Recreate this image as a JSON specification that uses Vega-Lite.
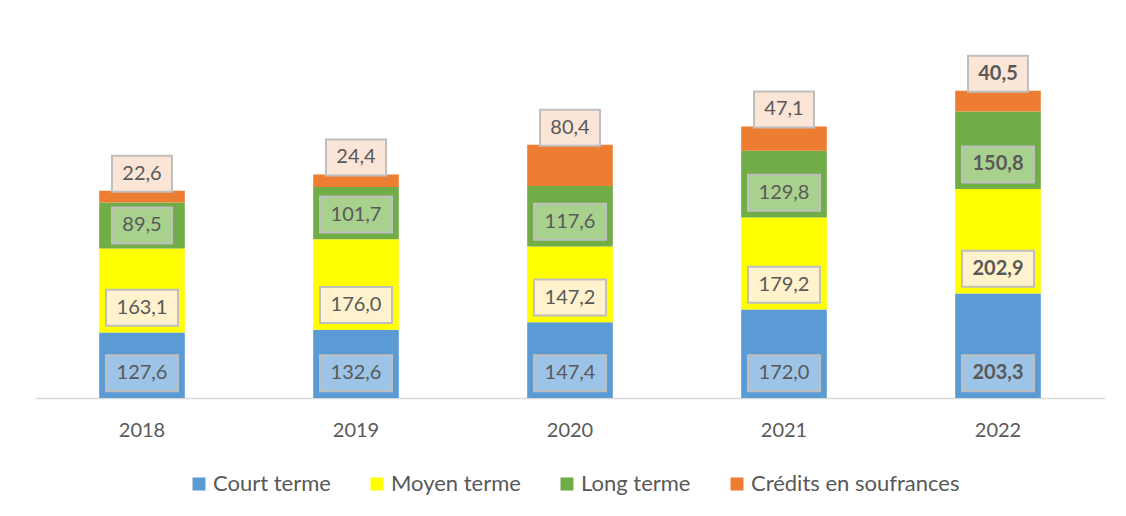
{
  "$schema": "https://vega.github.io/schema/vega-lite/v6.json",
  "width": 1070,
  "height": 360,
  "autosize": {"type": "none"},
  "padding": {"left": 35, "top": 38, "right": 21, "bottom": 118},
  "background": "white",
  "config": {
    "view": {"stroke": null},
    "font": "Lato",
    "locale": {"number": {"decimal": ",", "thousands": " ", "grouping": [3], "currency": ["", " €"]}}
  },
  "data": {
    "values": [
      {"year": "2018", "cat": "Court terme", "order": 1, "value": 127.6},
      {"year": "2018", "cat": "Moyen terme", "order": 2, "value": 163.1},
      {"year": "2018", "cat": "Long terme", "order": 3, "value": 89.5},
      {"year": "2018", "cat": "Crédits en soufrances", "order": 4, "value": 22.6},
      {"year": "2019", "cat": "Court terme", "order": 1, "value": 132.6},
      {"year": "2019", "cat": "Moyen terme", "order": 2, "value": 176.0},
      {"year": "2019", "cat": "Long terme", "order": 3, "value": 101.7},
      {"year": "2019", "cat": "Crédits en soufrances", "order": 4, "value": 24.4},
      {"year": "2020", "cat": "Court terme", "order": 1, "value": 147.4},
      {"year": "2020", "cat": "Moyen terme", "order": 2, "value": 147.2},
      {"year": "2020", "cat": "Long terme", "order": 3, "value": 117.6},
      {"year": "2020", "cat": "Crédits en soufrances", "order": 4, "value": 80.4},
      {"year": "2021", "cat": "Court terme", "order": 1, "value": 172.0},
      {"year": "2021", "cat": "Moyen terme", "order": 2, "value": 179.2},
      {"year": "2021", "cat": "Long terme", "order": 3, "value": 129.8},
      {"year": "2021", "cat": "Crédits en soufrances", "order": 4, "value": 47.1},
      {"year": "2022", "cat": "Court terme", "order": 1, "value": 203.3},
      {"year": "2022", "cat": "Moyen terme", "order": 2, "value": 202.9},
      {"year": "2022", "cat": "Long terme", "order": 3, "value": 150.8},
      {"year": "2022", "cat": "Crédits en soufrances", "order": 4, "value": 40.5}
    ]
  },
  "transform": [
    {"stack": "value", "groupby": ["year"], "sort": [{"field": "order"}], "as": ["v0", "v1"]},
    {"calculate": "datum.order == 4 ? datum.v1 + 33 : datum.v0 + min(datum.value / 2, 48)", "as": "ly"}
  ],
  "encoding": {
    "x": {
      "field": "year",
      "type": "ordinal",
      "scale": {"paddingInner": 0.6, "paddingOuter": 0.3},
      "axis": {
        "title": null,
        "labelAngle": 0,
        "ticks": false,
        "domainColor": "#D9D9D9",
        "domainWidth": 1.5,
        "labelFontSize": 20,
        "labelColor": "#595959",
        "labelPadding": 22,
        "labelFont": "Lato"
      }
    }
  },
  "layer": [
    {
      "mark": {"type": "bar"},
      "encoding": {
        "y": {"field": "v0", "type": "quantitative", "scale": {"domain": [0, 700], "nice": false}, "axis": null},
        "y2": {"field": "v1"},
        "color": {
          "field": "cat",
          "type": "nominal",
          "sort": ["Court terme", "Moyen terme", "Long terme", "Crédits en soufrances"],
          "scale": {
            "domain": ["Court terme", "Moyen terme", "Long terme", "Crédits en soufrances"],
            "range": ["#5B9BD5", "#FFFF00", "#70AD47", "#ED7D31"]
          },
          "legend": {
            "title": null,
            "orient": "none",
            "legendX": 153,
            "legendY": 435,
            "direction": "horizontal",
            "symbolType": "square",
            "symbolSize": 169,
            "symbolStrokeWidth": 0,
            "labelFontSize": 22,
            "labelColor": "#595959",
            "labelFont": "Lato",
            "labelOffset": 3,
            "columnPadding": 35,
            "labelLimit": 400
          }
        }
      }
    },
    {
      "mark": {"type": "point", "filled": true, "stroke": "#BFBFBF", "strokeWidth": 2, "opacity": 1},
      "encoding": {
        "y": {"field": "ly", "type": "quantitative"},
        "fill": {
          "field": "cat",
          "type": "nominal",
          "scale": {
            "domain": ["Court terme", "Moyen terme", "Long terme", "Crédits en soufrances"],
            "range": ["#9DC3E6", "#FFF2CC", "#A9D18E", "#FBE5D6"]
          },
          "legend": null
        },
        "shape": {
          "condition": {"test": "datum.value >= 100", "value": "M-1,-0.5H1V0.5H-1Z"},
          "value": "M-1,-0.6H1V0.6H-1Z"
        },
        "size": {
          "condition": {"test": "datum.value >= 100", "value": 5184},
          "value": 3600
        }
      }
    },
    {
      "transform": [{"filter": "datum.year != '2022'"}],
      "mark": {"type": "text", "fontSize": 20, "color": "#595959", "font": "Lato", "baseline": "middle"},
      "encoding": {
        "y": {"field": "ly", "type": "quantitative"},
        "text": {"field": "value", "type": "quantitative", "format": ".1f"}
      }
    },
    {
      "transform": [{"filter": "datum.year == '2022'"}],
      "mark": {"type": "text", "fontSize": 20, "color": "#595959", "font": "Lato", "fontWeight": "bold", "baseline": "middle"},
      "encoding": {
        "y": {"field": "ly", "type": "quantitative"},
        "text": {"field": "value", "type": "quantitative", "format": ".1f"}
      }
    }
  ]
}
